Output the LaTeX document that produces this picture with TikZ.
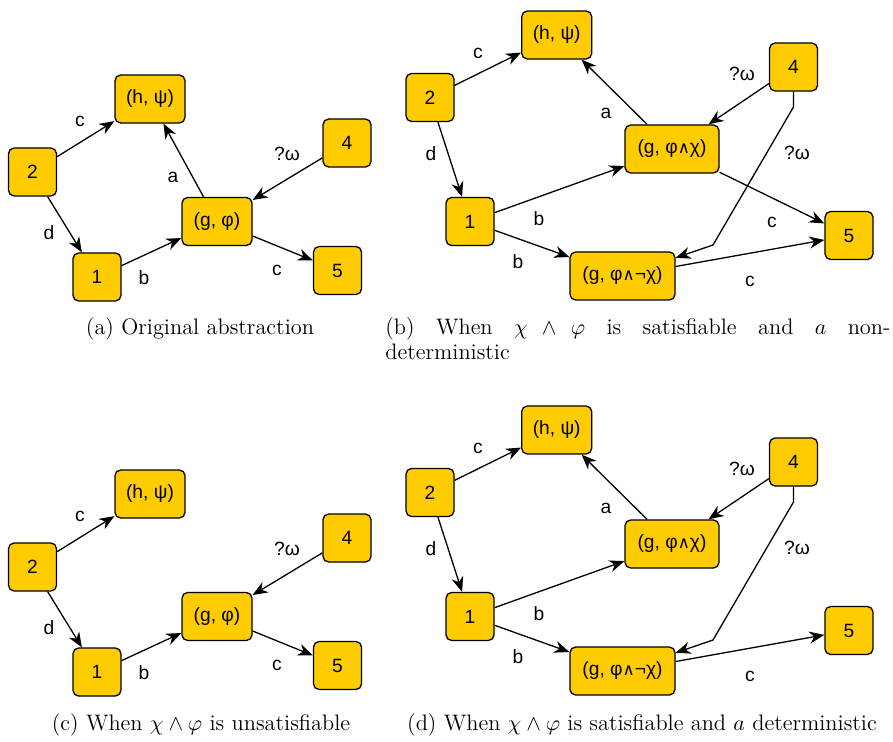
\documentclass[tikz,border=0pt]{standalone}
\usepackage{fontspec}
\newfontfamily\lsans{Liberation Sans}
\newfontfamily\djv{DejaVu Sans}
\usetikzlibrary{arrows.meta}
\definecolor{boxgold}{HTML}{FFCC00}
% logical-and glyph for the state labels
\newcommand{\wdg}{{\djv\fontsize{8.3}{9}\selectfont ∧}}

\begin{document}
\begin{tikzpicture}[x=0.5pt,y=-0.5pt,
  box/.style={draw=black, line width=0.65pt, fill=boxgold, rounded corners=2.8pt,
    minimum height=24pt, inner sep=0pt, font=\lsans\fontsize{9.6}{10}\selectfont},
  sq/.style={box, minimum width=24pt},
  wd/.style={box, minimum width=35pt},
  wx/.style={box, minimum width=47pt},
  wn/.style={box, minimum width=52.5pt},
  arr/.style={draw, line width=0.65pt, -{Stealth[length=7.5pt,width=6pt,inset=2.4pt]}},
  lbl/.style={font=\lsans\fontsize{9.6}{10}\selectfont, inner sep=0pt},
  subcap/.style={font=\fontsize{11.2}{12.5}\selectfont, inner sep=0pt, anchor=base}
]
\useasboundingbox (0,0) rectangle (893,742);

% ---------- (a) original abstraction ----------
\node[sq] (a2) at (32.5,172) {2};
\node[wd] (ah) at (150,99) {(h, ψ)};
\node[sq] (a4) at (347,143) {4};
\node[wd] (ag) at (217,221.5) {(g, φ)};
\node[sq] (a1) at (97,277) {1};
\node[sq] (a5) at (337.5,270.5) {5};
\draw[arr] (a2) -- (ah);
\draw[arr] (a2) -- (a1);
\draw[arr] (a1) -- (ag);
\draw[arr] (ag) -- (ah);
\draw[arr] (a4) -- (ag);
\draw[arr] (ag) -- (a5);
\node[lbl] (al1) at (80,121) {c};
\node[lbl] (al2) at (49,233) {d};
\node[lbl] (al3) at (144,278) {b};
\node[lbl] (al4) at (173,177) {a};
\node[lbl] (al5) at (287,154) {?ω};
\node[lbl] (al6) at (277,270) {c};
\node[subcap] (capa) at (200,335) {(a) Original abstraction};

% ---------- (b) split, a non-deterministic ----------
\node[wd] (bh) at (556.7,35) {(h, ψ)};
\node[sq] (b2) at (430,97.5) {2};
\node[sq] (b4) at (793.5,67) {4};
\node[wx] (bx) at (672,149) {(g, φ\wdg χ)};
\node[sq] (b1) at (470,221.5) {1};
\node[sq] (b5) at (849,235.5) {5};
\node[wn] (bn) at (622.5,276) {(g, φ\wdg¬χ)};
\coordinate (bk1) at (793.5,107);
\coordinate (bk2) at (713,245);
\draw[arr] (b2) -- (bh);
\draw[arr] (b2) -- (b1);
\draw[arr] (bx) -- (bh);
\draw[arr] (b4) -- (bx);
\draw[arr] (b4.south) -- (bk1) -- (bk2) -- (bn);
\draw[arr] (b1) -- (bx);
\draw[arr] (b1) -- (bn);
\draw[arr] (bx) -- (b5);
\draw[arr] (bn) -- (b5);
\node[lbl] (bl1) at (478,53) {c};
\node[lbl] (bl2) at (431,154) {d};
\node[lbl] (bl3) at (606,113) {a};
\node[lbl] (bl4) at (742,74) {?ω};
\node[lbl] (bl5) at (797,153) {?ω};
\node[lbl] (bl6) at (539,219) {b};
\node[lbl] (bl7) at (518,262) {b};
\node[lbl] (bl8) at (772,222) {c};
\node[lbl] (bl9) at (750,281) {c};
\node[subcap, anchor=base west] (capb) at (385,335)
  {\parbox[t]{252.5pt}{(b) When $\chi \wedge \varphi$ is satisfiable and $a$ non-\linebreak deterministic}};

% ---------- (c) chi and phi unsatisfiable ----------
\begin{scope}[yshift=-197.5pt]
\node[sq] (c2) at (32.5,172) {2};
\node[wd] (ch) at (150,99) {(h, ψ)};
\node[sq] (c4) at (347,143) {4};
\node[wd] (cg) at (217,221.5) {(g, φ)};
\node[sq] (c1) at (97,277) {1};
\node[sq] (c5) at (337.5,270.5) {5};
\draw[arr] (c2) -- (ch);
\draw[arr] (c2) -- (c1);
\draw[arr] (c1) -- (cg);
\draw[arr] (c4) -- (cg);
\draw[arr] (cg) -- (c5);
\node[lbl] (cl1) at (80,121) {c};
\node[lbl] (cl2) at (49,233) {d};
\node[lbl] (cl3) at (144,278) {b};
\node[lbl] (cl5) at (287,154) {?ω};
\node[lbl] (cl6) at (277,270) {c};
\end{scope}
\node[subcap] (capc) at (201,730) {(c) When $\chi \wedge \varphi$ is unsatisfiable};

% ---------- (d) split, a deterministic ----------
\begin{scope}[yshift=-197.5pt]
\node[wd] (dh) at (556.7,35) {(h, ψ)};
\node[sq] (d2) at (430,97.5) {2};
\node[sq] (d4) at (793.5,67) {4};
\node[wx] (dx) at (672,149) {(g, φ\wdg χ)};
\node[sq] (d1) at (470,221.5) {1};
\node[sq] (d5) at (849,235.5) {5};
\node[wn] (dn) at (622.5,276) {(g, φ\wdg¬χ)};
\coordinate (dk1) at (793.5,107);
\coordinate (dk2) at (713,245);
\draw[arr] (d2) -- (dh);
\draw[arr] (d2) -- (d1);
\draw[arr] (dx) -- (dh);
\draw[arr] (d4) -- (dx);
\draw[arr] (d4.south) -- (dk1) -- (dk2) -- (dn);
\draw[arr] (d1) -- (dx);
\draw[arr] (d1) -- (dn);
\draw[arr] (dn) -- (d5);
\node[lbl] (dl1) at (478,53) {c};
\node[lbl] (dl2) at (431,154) {d};
\node[lbl] (dl3) at (606,113) {a};
\node[lbl] (dl4) at (742,74) {?ω};
\node[lbl] (dl5) at (797,153) {?ω};
\node[lbl] (dl6) at (539,219) {b};
\node[lbl] (dl7) at (518,262) {b};
\node[lbl] (dl9) at (750,281) {c};
\end{scope}
\node[subcap] (capd) at (642,730) {(d) When $\chi \wedge \varphi$ is satisfiable and $a$ deterministic};
\end{tikzpicture}
\end{document}
